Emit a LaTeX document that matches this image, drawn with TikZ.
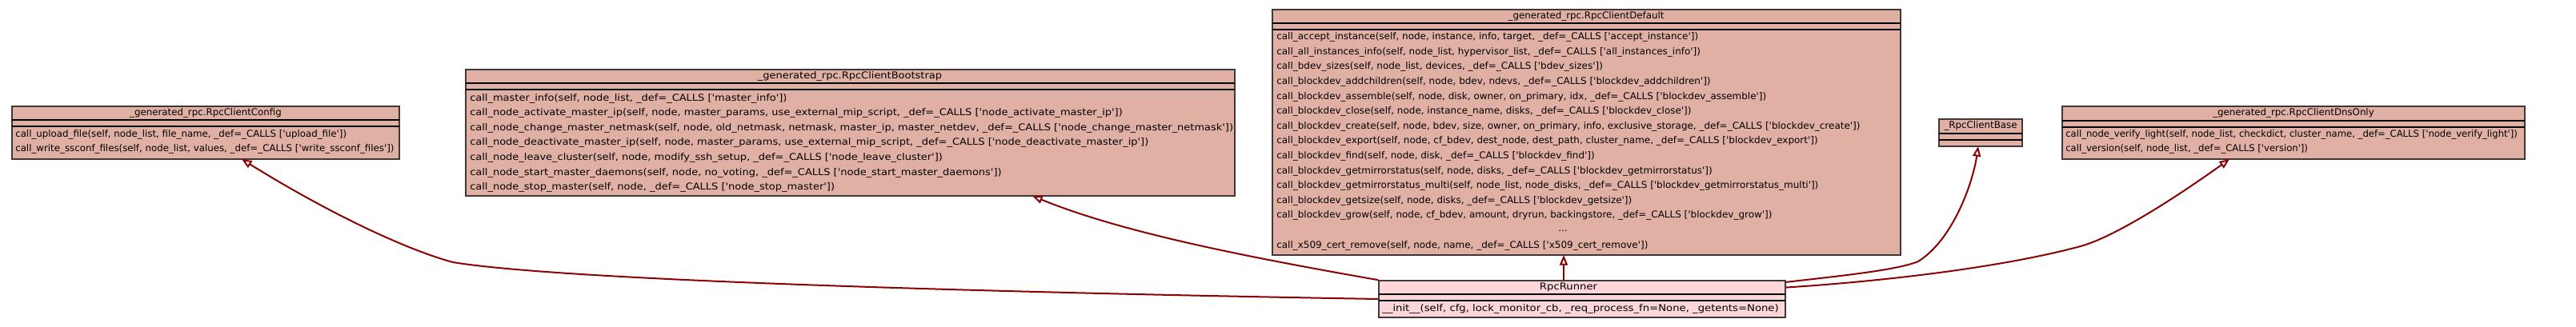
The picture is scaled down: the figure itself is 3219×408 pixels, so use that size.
\documentclass[tikz,border=0pt]{standalone}
\usepackage{fontspec}
\usepackage{graphicx}
\newfontfamily\dvsans{DejaVu Sans}
\usetikzlibrary{arrows.meta,fit}

\definecolor{clsfill}{RGB}{225,176,165}
\definecolor{runfill}{RGB}{253,214,218}
\definecolor{clsline}{RGB}{64,56,54}
\definecolor{edgecol}{RGB}{139,0,0}

\begin{document}
\begin{tikzpicture}[x=0.75pt,y=-0.75pt,
	cls/.style={draw=clsline, fill=clsfill, line width=1.2pt, inner sep=0pt},
	sep/.style={line width=1.2pt},
	txt/.style={font=\dvsans\fontsize{8.85}{10}\selectfont, inner sep=0pt},
	meth/.style={txt, anchor=west},
	inherit/.style={draw=edgecol, line width=1.5pt, -{Triangle[open, length=9.5pt, width=7.5pt, fill=white]}}]

	\pgfmathsetmacro{\dy}{18.6} % line step of the method rows

	% Page
	\fill[white] (0,0) rectangle (3219,408);
	\useasboundingbox (0,0) rectangle (3219,408);

	% _generated_rpc.RpcClientConfig
	\node[cls, fit={(15,133) (499,199)}] (cfg) {};
	\draw[sep] (15,150) -- (499,150);
	\draw[sep] (15,158) -- (499,158);
	\node[txt] (cfg-title) at (257,141.5) {\_generated\_rpc.RpcClientConfig};
	\foreach \m [count=\i from 0] in {
		{call\_upload\_file(self, node\_list, file\_name, \_def=\_CALLS ['upload\_file'])},
		{call\_write\_ssconf\_files(self, node\_list, values, \_def=\_CALLS ['write\_ssconf\_files'])}}
		\node[meth] (cfg-m\i) at (19,{168+\dy*\i}) {\m};

	% _generated_rpc.RpcClientBootstrap (text set a little wider)
	\node[cls, fit={(582,87) (1543,245)}] (boot) {};
	\draw[sep] (582,104) -- (1543,104);
	\draw[sep] (582,112) -- (1543,112);
	\node[txt] (boot-title) at (1062,95) {\scalebox{1.1}[1]{\_generated\_rpc.RpcClientBootstrap}};
	\foreach \m [count=\i from 0] in {
		{call\_master\_info(self, node\_list, \_def=\_CALLS ['master\_info'])},
		{call\_node\_activate\_master\_ip(self, node, master\_params, use\_external\_mip\_script, \_def=\_CALLS ['node\_activate\_master\_ip'])},
		{call\_node\_change\_master\_netmask(self, node, old\_netmask, netmask, master\_ip, master\_netdev, \_def=\_CALLS ['node\_change\_master\_netmask'])},
		{call\_node\_deactivate\_master\_ip(self, node, master\_params, use\_external\_mip\_script, \_def=\_CALLS ['node\_deactivate\_master\_ip'])},
		{call\_node\_leave\_cluster(self, node, modify\_ssh\_setup, \_def=\_CALLS ['node\_leave\_cluster'])},
		{call\_node\_start\_master\_daemons(self, node, no\_voting, \_def=\_CALLS ['node\_start\_master\_daemons'])},
		{call\_node\_stop\_master(self, node, \_def=\_CALLS ['node\_stop\_master'])}}
		\node[meth] (boot-m\i) at (587,{123+\dy*\i}) {\scalebox{1.1}[1]{\m}};

	% _generated_rpc.RpcClientDefault
	\node[cls, fit={(1590,12) (2375,319)}] (dflt) {};
	\draw[sep] (1590,29) -- (2375,29);
	\draw[sep] (1590,37) -- (2375,37);
	\node[txt] (dflt-title) at (1982,20) {\_generated\_rpc.RpcClientDefault};
	\foreach \m [count=\i from 0] in {
		{call\_accept\_instance(self, node, instance, info, target, \_def=\_CALLS ['accept\_instance'])},
		{call\_all\_instances\_info(self, node\_list, hypervisor\_list, \_def=\_CALLS ['all\_instances\_info'])},
		{call\_bdev\_sizes(self, node\_list, devices, \_def=\_CALLS ['bdev\_sizes'])},
		{call\_blockdev\_addchildren(self, node, bdev, ndevs, \_def=\_CALLS ['blockdev\_addchildren'])},
		{call\_blockdev\_assemble(self, node, disk, owner, on\_primary, idx, \_def=\_CALLS ['blockdev\_assemble'])},
		{call\_blockdev\_close(self, node, instance\_name, disks, \_def=\_CALLS ['blockdev\_close'])},
		{call\_blockdev\_create(self, node, bdev, size, owner, on\_primary, info, exclusive\_storage, \_def=\_CALLS ['blockdev\_create'])},
		{call\_blockdev\_export(self, node, cf\_bdev, dest\_node, dest\_path, cluster\_name, \_def=\_CALLS ['blockdev\_export'])},
		{call\_blockdev\_find(self, node, disk, \_def=\_CALLS ['blockdev\_find'])},
		{call\_blockdev\_getmirrorstatus(self, node, disks, \_def=\_CALLS ['blockdev\_getmirrorstatus'])},
		{call\_blockdev\_getmirrorstatus\_multi(self, node\_list, node\_disks, \_def=\_CALLS ['blockdev\_getmirrorstatus\_multi'])},
		{call\_blockdev\_getsize(self, node, disks, \_def=\_CALLS ['blockdev\_getsize'])},
		{call\_blockdev\_grow(self, node, cf\_bdev, amount, dryrun, backingstore, \_def=\_CALLS ['blockdev\_grow'])}}
		\node[meth] (dflt-m\i) at (1595,{46.7+\dy*\i}) {\scalebox{1.015}[1]{\m}};
	\node[txt] (dflt-more) at (1953,{46.7+\dy*13}) {...};
	\node[meth] (dflt-last) at (1595,{46.7+\dy*14}) {\scalebox{1.015}[1]{call\_x509\_cert\_remove(self, node, name, \_def=\_CALLS ['x509\_cert\_remove'])}};

	% _RpcClientBase
	\node[cls, fit={(2423,149) (2527,183)}] (base) {};
	\draw[sep] (2423,167) -- (2527,167);
	\draw[sep] (2423,175) -- (2527,175);
	\node[txt] (base-title) at (2475,157.5) {\_RpcClientBase};

	% _generated_rpc.RpcClientDnsOnly (text set a little narrower)
	\node[cls, fit={(2577,133) (3155,199)}] (dns) {};
	\draw[sep] (2577,151) -- (3155,151);
	\draw[sep] (2577,159) -- (3155,159);
	\node[txt] (dns-title) at (2866,141) {\_generated\_rpc.RpcClientDnsOnly};
	\foreach \m [count=\i from 0] in {
		{call\_node\_verify\_light(self, node\_list, checkdict, cluster\_name, \_def=\_CALLS ['node\_verify\_light'])},
		{call\_version(self, node\_list, \_def=\_CALLS ['version'])}}
		\node[meth] (dns-m\i) at (2581,{168.3+\dy*\i}) {\scalebox{0.985}[1]{\m}};

	% RpcRunner (text set a little wider)
	\node[cls, fill=runfill, fit={(1723,351) (2231,397)}] (run) {};
	\draw[sep] (1723,368) -- (2231,368);
	\draw[sep] (1723,376) -- (2231,376);
	\node[txt] (run-title) at (1960,359) {\scalebox{1.12}[1]{RpcRunner}};
	\node[meth] (run-m0) at (1727,386) {\scalebox{1.12}[1]{\_\_init\_\_(self, cfg, lock\_monitor\_cb, \_req\_process\_fn=None, \_getents=None)}};

	% Attachment points of the inheritance arrows
	\coordinate (cfg-in) at (302,199);
	\coordinate (boot-in) at (1290,245);
	\coordinate (dflt-in) at (1954,319);
	\coordinate (base-in) at (2472,183);
	\coordinate (dns-in) at (2786,199);

	% Inheritance
	\draw[inherit] (run.west) .. controls (1200,365) and (700,350) .. (566,328)
		.. controls (500,310) and (400,260) .. (cfg-in);
	\draw[inherit] (run.north west) .. controls (1550,320) and (1400,290) .. (boot-in);
	\draw[inherit] (run.north -| dflt-in) -- (dflt-in);
	\draw[inherit] ([yshift=-2pt]run.north east) .. controls (2300,345) and (2370,338) .. (2397,327)
		.. controls (2440,300) and (2465,230) .. (base-in);
	\draw[inherit] ([yshift=-7pt]run.north east) .. controls (2350,352) and (2500,335) .. (2600,308)
		.. controls (2650,294) and (2740,232) .. (dns-in);

\end{tikzpicture}
\end{document}
